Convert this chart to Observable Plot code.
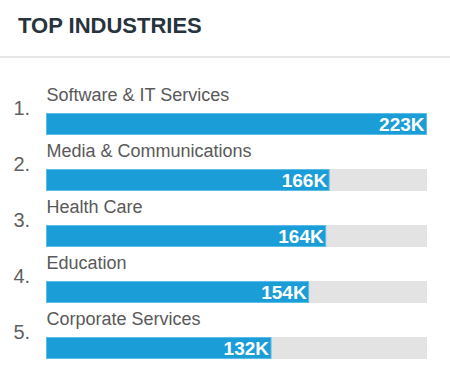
<!DOCTYPE html>
<html>
<head>
<meta charset="utf-8">
<script src="https://cdn.jsdelivr.net/npm/d3@7"></script>
<script src="https://cdn.jsdelivr.net/npm/@observablehq/plot@0.6"></script>
<style>
  html, body { margin: 0; padding: 0; background: #fff; width: 450px; height: 377px; overflow: hidden; }
  body { font-family: "Liberation Sans", Arial, Helvetica, sans-serif; }
  #header { height: 56px; border-bottom: 2px solid #e6e6e6; box-sizing: content-box; position: relative; }
  #title { position: absolute; left: 18px; top: 15px; margin: 0; font-size: 22px; line-height: 22px; font-weight: bold; color: #27333d; }
</style>
</head>
<body>
<div id="header"><h1 id="title">TOP INDUSTRIES</h1></div>
<div id="chart"></div>
<script>
const ranks = ["1.", "2.", "3.", "4.", "5."];
const industries = ["Software & IT Services", "Media & Communications", "Health Care", "Education", "Corporate Services"];
const values = [223, 166, 164, 154, 132];           // thousands
const valueLabels = ["223K", "166K", "164K", "154K", "132K"];
const maxValue = 223;

const data = industries.map((name, i) => ({
  rank: ranks[i], name, value: values[i], label: valueLabels[i]
}));

const chart = Plot.plot({
  width: 450,
  height: 319,
  marginTop: 0, marginBottom: 0, marginLeft: 0, marginRight: 0,
  style: { fontFamily: '"Liberation Sans", Arial, Helvetica, sans-serif', background: "#fff" },
  x: { domain: [0, maxValue], range: [46, 427], axis: null },
  y: { domain: industries, range: [53, 303], paddingInner: 0.608, paddingOuter: 0, axis: null },
  marks: [
    Plot.barX(data, { y: "name", x1: 0, x2: maxValue, fill: "#e3e3e3" }),
    Plot.barX(data, { y: "name", x1: 0, x2: "value", fill: "#1b9dd8", stroke: "#5cbce8", strokeWidth: 1, inset: 0.5 }),
    Plot.text(data, { y: "name", x: "value", text: "label", textAnchor: "end", dx: -3, dy: 0, fill: "#fff", fontSize: 19, fontWeight: "bold" }),
    Plot.text(data, { y: "name", x: 0, text: "name", textAnchor: "start", dy: -29, fill: "#595959", fontSize: 18 }),
    Plot.text(data, { y: "name", frameAnchor: "left", text: "rank", textAnchor: "start", dx: 13, dy: -16, fill: "#5f5f5f", fontSize: 20 })
  ]
});
document.getElementById("chart").appendChild(chart);
</script>
</body>
</html>
